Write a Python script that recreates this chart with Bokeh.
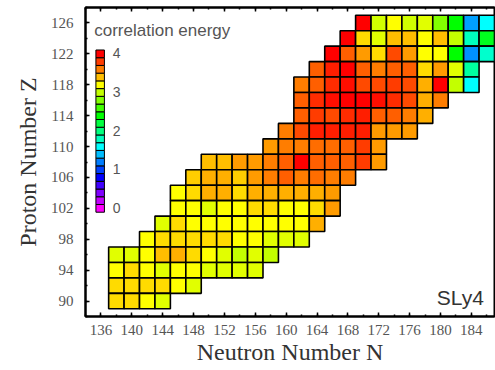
import colorsys
from bokeh.plotting import figure
from bokeh.models import ColumnDataSource, LinearColorMapper, FixedTicker, LinearAxis, Range1d, Label
from bokeh.transform import transform
from bokeh.embed import file_html
from bokeh.resources import INLINE
try:
    from bokeh.models import HTMLLabel as TextLabel
except ImportError:
    TextLabel = Label

# ---- data: correlation energy per even-even nucleus, one list per proton row ----
# each row: first neutron number, then energies for N = first, first+2, ...
z126_first, z126 = 170, [4.0, 3.05, 3.2, 3.05, 3.1, 2.8, 2.4, 1.3, 1.6]
z124_first, z124 = 168, [4.0, 3.3, 3.1, 3.4, 3.4, 3.2, 3.4, 3.0, 1.8, 2.3]
z122_first, z122 = 166, [4.0, 3.7, 3.5, 3.3, 3.75, 3.5, 3.2, 3.2, 2.4, 1.25, 1.75]
z120_first, z120 = 164, [3.7, 3.9, 4.0, 3.7, 3.6, 3.7, 3.7, 3.3, 3.5, 3.1, 1.9]
z118_first, z118 = 162, [3.6, 3.7, 3.85, 3.95, 3.75, 3.75, 3.8, 3.75, 3.45, 4.0, 3.0, 1.6]
z116_first, z116 = 162, [3.7, 3.85, 3.95, 4.0, 4.0, 3.95, 3.85, 3.75, 3.45, 3.6]
z114_first, z114 = 162, [3.7, 3.8, 3.75, 3.85, 3.9, 3.7, 3.7, 3.6, 3.45]
z112_first, z112 = 160, [3.6, 3.75, 3.9, 3.9, 3.9, 3.9, 3.5, 3.5, 3.5]
z110_first, z110 = 158, [3.5, 3.6, 3.6, 3.65, 3.65, 3.7, 3.8, 3.5]
z108_first, z108 = 150, [3.4, 3.4, 3.5, 3.5, 3.6, 3.7, 4.0, 3.7, 3.7, 3.7, 3.8, 3.5]
z106_first, z106 = 148, [3.35, 3.45, 3.45, 3.35, 3.5, 3.6, 3.7, 3.6, 3.65, 3.6, 3.6]
z104_first, z104 = 146, [3.2, 3.3, 3.45, 3.45, 3.3, 3.45, 3.45, 3.45, 3.45, 3.45, 3.5]
z102_first, z102 = 146, [3.2, 3.2, 3.1, 3.2, 3.2, 3.3, 3.3, 3.2, 3.2, 3.3, 3.5]
z100_first, z100 = 144, [3.1, 3.3, 3.2, 3.2, 3.2, 3.2, 3.2, 3.2, 3.2, 3.2, 3.45]
z098_first, z098 = 142, [3.2, 3.3, 3.3, 3.3, 3.3, 3.3, 3.2, 3.2, 3.1, 3.1, 3.1]
z096_first, z096 = 138, [3.1, 3.1, 3.2, 3.4, 3.45, 3.3, 3.2, 3.1, 3.0, 3.1, 3.0]
z094_first, z094 = 138, [3.2, 3.3, 3.2, 3.1, 3.2, 3.2, 3.1, 3.1, 3.1, 3.1]
z092_first, z092 = 138, [3.3, 3.3, 3.3, 3.3, 3.2, 3.1]
z090_first, z090 = 138, [3.3, 3.3, 3.2, 3.1]

legend_levels = [0.0, 0.2, 0.4, 0.6, 0.8, 1.0, 1.2, 1.4, 1.6, 1.8, 2.0,
                 2.2, 2.4, 2.6, 2.8, 3.0, 3.2, 3.4, 3.6, 3.8, 4.0]
legend_ticks = ["0", "1", "2", "3", "4"]
x_ticks = [136, 140, 144, 148, 152, 156, 160, 164, 168, 172, 176, 180, 184]
y_ticks = [90, 94, 98, 102, 106, 110, 114, 118, 122, 126]

rows = [
    (126, z126_first, z126), (124, z124_first, z124), (122, z122_first, z122),
    (120, z120_first, z120), (118, z118_first, z118), (116, z116_first, z116),
    (114, z114_first, z114), (112, z112_first, z112), (110, z110_first, z110),
    (108, z108_first, z108), (106, z106_first, z106), (104, z104_first, z104),
    (102, z102_first, z102), (100, z100_first, z100), (98, z098_first, z098),
    (96, z096_first, z096), (94, z094_first, z094), (92, z092_first, z092),
    (90, z090_first, z090),
]

Ns, Zs, Es = [], [], []
for z, n0, vals in rows:
    for i, e in enumerate(vals):
        Ns.append(n0 + 2 * i)
        Zs.append(z)
        Es.append(e)

# hue rainbow: magenta (0) -> blue -> cyan -> green -> yellow -> red (4)
palette = []
for k in range(256):
    h = (300.0 - 300.0 * k / 255.0) / 360.0
    r, g, b = colorsys.hsv_to_rgb(h, 1.0, 1.0)
    palette.append("#%02x%02x%02x" % (int(r * 255), int(g * 255), int(b * 255)))
mapper = LinearColorMapper(palette=palette, low=0.0, high=4.0)

SERIF = "Liberation Serif"

p = figure(width=495, height=370, x_range=Range1d(134, 187), y_range=Range1d(88, 128),
           output_backend="svg", toolbar_location=None,
           min_border_left=85, min_border_right=1, min_border_top=7, min_border_bottom=54,
           x_axis_label="Neutron Number N", y_axis_label="Proton Number Z")
p.background_fill_color = "white"
p.border_fill_color = "white"
p.outline_line_color = "black"
p.outline_line_width = 2
p.xgrid.visible = False
p.ygrid.visible = False

src = ColumnDataSource(dict(N=Ns, Z=Zs, E=Es))
p.rect(x="N", y="Z", width=2, height=2, source=src,
       fill_color=transform("E", mapper), line_color="black", line_width=1.6)

# colour legend
lsrc = ColumnDataSource(dict(x=[135.9] * len(legend_levels),
                             y=[102 + 5 * v for v in legend_levels],
                             v=legend_levels))
p.rect(x="x", y="y", width=1.1, height=1, source=lsrc,
       fill_color=transform("v", mapper), line_color="black", line_width=1)
for t in legend_ticks:
    p.add_layout(TextLabel(x=137.6, y=102 + 5 * int(t), text=t, text_font=SERIF,
                           text_font_size="14px", text_color="#555555",
                           text_baseline="middle", text_align="left"))

p.add_layout(TextLabel(x=135.2, y=124.93, text="correlation energy", text_font=SERIF,
                       text_font_size="17px", text_color="#555555",
                       text_baseline="alphabetic", text_align="left"))
p.add_layout(TextLabel(x=185.7, y=90.33, text="SLy4", text_font=SERIF,
                       text_font_size="21px", text_color="#333333",
                       text_baseline="alphabetic", text_align="right"))

minor_x = [134 + 2 * k for k in range(27)]
minor_y = [88 + 2 * k for k in range(21)]

def style(ax):
    ax.major_tick_in = 4
    ax.major_tick_out = 0
    ax.minor_tick_in = 2
    ax.minor_tick_out = 0
    ax.major_tick_line_color = "black"
    ax.minor_tick_line_color = "black"
    ax.major_tick_line_width = 1.5
    ax.minor_tick_line_width = 1.5
    ax.axis_line_color = "black"
    ax.axis_line_width = 2
    ax.major_label_text_font = SERIF
    ax.major_label_text_font_size = "15px"
    ax.major_label_text_color = "#555555"
    ax.axis_label_text_font = SERIF
    ax.axis_label_text_font_size = "24px"
    ax.axis_label_text_font_style = "normal"
    ax.axis_label_text_color = "#333333"

p.xaxis.ticker = FixedTicker(ticks=x_ticks, minor_ticks=minor_x)
p.yaxis.ticker = FixedTicker(ticks=y_ticks, minor_ticks=minor_y)
style(p.xaxis[0])
style(p.yaxis[0])
p.xaxis.major_label_standoff = 8
p.xaxis.axis_label_standoff = 1
p.yaxis.major_label_standoff = 12
p.yaxis.axis_label_standoff = 7

top = LinearAxis(ticker=FixedTicker(ticks=x_ticks, minor_ticks=minor_x))
style(top)
top.major_label_text_font_size = "0px"
top.major_label_text_color = None
top.major_label_standoff = 0
p.add_layout(top, "above")

open("out.html", "w").write(file_html(p, INLINE))
